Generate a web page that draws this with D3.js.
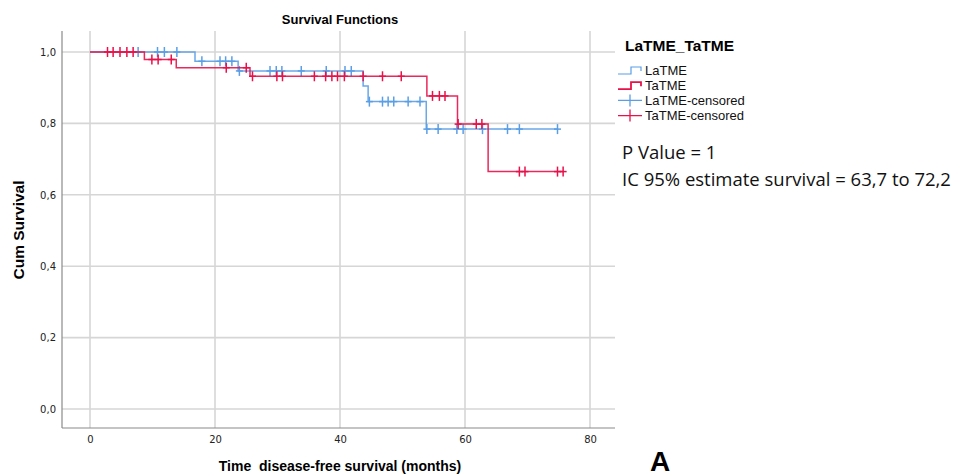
<!DOCTYPE html>
<html><head><meta charset="utf-8">
<script src="https://cdn.jsdelivr.net/npm/d3@7"></script>
<style>body{margin:0;background:#fff}svg{display:block}</style>
</head><body><svg id="c" width="962" height="476"></svg>
<script>
const groups = ["LaTME", "TaTME"];
const xTicks = [0, 20, 40, 60, 80];
const yTicks = [0, 0.2, 0.4, 0.6, 0.8, 1.0];
// Kaplan–Meier steps (event times, survival after event)
const laEventTimes = [16.8, 23.7, 43.7, 44.5, 53.8];
const laEventSurv  = [0.974, 0.947, 0.905, 0.861, 0.784];
const laCensored = [7.7, 10.8, 11.9, 13.9, 17.9, 20.8, 21.7, 22.7, 23.9, 28.8, 29.8, 30.7, 33.8, 37.8, 40.8, 41.8, 44.7, 46.8, 47.7, 48.6, 50.9, 52.8, 53.9, 55.7, 58.7, 59.7, 62.8, 66.8, 68.7, 74.8];
const taEventTimes = [8.7, 13.8, 25.6, 53.9, 58.8, 63.7];
const taEventSurv  = [0.979, 0.956, 0.932, 0.877, 0.798, 0.665];
const taCensored = [2.8, 3.7, 4.8, 5.9, 6.9, 9.9, 10.9, 13.0, 21.8, 25.0, 26.0, 29.9, 30.8, 35.9, 37.7, 38.7, 39.6, 40.7, 43.7, 46.8, 49.8, 54.8, 55.9, 56.8, 58.9, 61.8, 62.7, 68.7, 69.6, 74.8, 75.7];
const colors = {LaTME: "#5a9ee6", TaTME: "#e8114a"};

const svg = d3.select("#c");
const x = d3.scaleLinear().domain([0, 80]).range([90, 590]);
const y = d3.scaleLinear().domain([0, 1]).range([409, 52]);
const L = 62, R = 615, T = 31, B = 428;
const SANS = "Liberation Sans, Arial, sans-serif";

// gridlines
const g = svg.append("g");
g.selectAll(".vg").data(xTicks).join("line")
  .attr("x1", d => x(d)).attr("x2", d => x(d)).attr("y1", T).attr("y2", B)
  .attr("stroke", "#d6d6d6").attr("stroke-width", 1.6);
g.selectAll(".hg").data(yTicks).join("line")
  .attr("x1", L).attr("x2", R).attr("y1", d => y(d)).attr("y2", d => y(d))
  .attr("stroke", "#d6d6d6").attr("stroke-width", 1.6);

// axes
const fmt = d => d3.format(".1f")(d).replace(".", ",");
const xAxis = d3.axisBottom(x).tickValues(xTicks).tickSize(0).tickPadding(8);
const yAxis = d3.axisLeft(y).tickValues(yTicks).tickSize(0).tickPadding(6).tickFormat(fmt);
const gx = svg.append("g").attr("transform", `translate(0,${B})`).call(xAxis);
const gy = svg.append("g").attr("transform", `translate(${L},0)`).call(yAxis);
[gx, gy].forEach(a => {
  a.select(".domain").remove();
  a.selectAll("text").attr("font-family", "DejaVu Sans").attr("font-size", 10).attr("fill", "#222");
});
svg.append("line").attr("x1", L).attr("x2", L).attr("y1", T).attr("y2", B).attr("stroke", "#8a8a8a").attr("stroke-width", 1.2);
svg.append("line").attr("x1", L).attr("x2", R).attr("y1", B).attr("y2", B).attr("stroke", "#8a8a8a").attr("stroke-width", 1.2);

// curves
function build(times, surv, cens) {
  const tEnd = d3.max([...times, ...cens]);
  const pts = [[0, 1], ...times.map((t, i) => [t, surv[i]]), [tEnd, surv[surv.length - 1]]];
  const sAt = t => { let s = 1; times.forEach((tt, i) => { if (tt <= t) s = surv[i]; }); return s; };
  return {pts, cpts: cens.map(t => [t, sAt(t)])};
}
const line = d3.line().x(d => x(d[0])).y(d => y(d[1])).curve(d3.curveStepAfter);
const data = [
  {name: "LaTME", ...build(laEventTimes, laEventSurv, laCensored)},
  {name: "TaTME", ...build(taEventTimes, taEventSurv, taCensored)}
];
data.forEach(d => {
  const gg = svg.append("g");
  gg.append("path").attr("d", line(d.pts)).attr("fill", "none")
    .attr("stroke", colors[d.name]).attr("stroke-width", 1.5).attr("opacity", 0.9);
  gg.selectAll("g.c").data(d.cpts).join("g")
    .attr("transform", p => `translate(${x(p[0])},${y(p[1])})`)
    .each(function() {
      const s = d3.select(this);
      s.append("line").attr("x1", 0).attr("x2", 0).attr("y1", -5).attr("y2", 5);
      s.append("line").attr("x1", -3.5).attr("x2", 3.5).attr("y1", 0).attr("y2", 0);
      s.selectAll("line").attr("stroke", colors[d.name]).attr("stroke-width", 1.5);
    });
});

// titles
svg.append("text").attr("x", 340).attr("y", 24).attr("text-anchor", "middle")
  .attr("font-family", SANS).attr("font-weight", "bold").attr("font-size", 13).text("Survival Functions");
svg.append("text").attr("transform", "translate(24,230) rotate(-90)").attr("text-anchor", "middle")
  .attr("font-family", SANS).attr("font-weight", "bold").attr("font-size", 15.5).text("Cum Survival");
svg.append("text").attr("x", 340).attr("y", 471).attr("text-anchor", "middle").attr("xml:space", "preserve")
  .attr("font-family", SANS).attr("font-weight", "bold").attr("font-size", 14).text("Time  disease-free survival (months)");

// legend
svg.append("text").attr("x", 625).attr("y", 51).attr("font-family", SANS)
  .attr("font-weight", "bold").attr("font-size", 15.5).text("LaTME_TaTME");
const legItems = [
  {label: "LaTME", g: "LaTME", type: "step"},
  {label: "TaTME", g: "TaTME", type: "step"},
  {label: "LaTME-censored", g: "LaTME", type: "cens"},
  {label: "TaTME-censored", g: "TaTME", type: "cens"}
];
const lg = svg.append("g");
legItems.forEach((it, i) => {
  const cy = 70 + i * 15.2;
  if (it.type === "step") {
    lg.append("path").attr("d", `M618,${cy + 4}H631V${cy - 3}H641V${cy + 1}`)
      .attr("fill", "none").attr("stroke", colors[it.g]).attr("stroke-width", it.g === "TaTME" ? 1.8 : 1.2);
  } else {
    lg.append("path").attr("d", `M618,${cy}H642M630,${cy - 6}V${cy + 6}`)
      .attr("fill", "none").attr("stroke", colors[it.g]).attr("stroke-width", 1.3);
  }
  lg.append("text").attr("x", 645).attr("y", cy + 4.5).attr("font-family", SANS)
    .attr("font-size", 13).attr("fill", "#111").text(it.label);
});

svg.append("text").attr("x", 622).attr("y", 159).attr("font-family", "Open Sans")
  .attr("font-size", 18.5).attr("fill", "#111").text("P Value = 1");
svg.append("text").attr("x", 622).attr("y", 186).attr("font-family", "Open Sans")
  .attr("font-size", 18.5).attr("fill", "#111").text("IC 95% estimate survival = 63,7 to 72,2");
svg.append("text").attr("x", 650).attr("y", 471).attr("font-family", SANS)
  .attr("font-weight", "bold").attr("font-size", 28).text("A");
</script></body></html>
